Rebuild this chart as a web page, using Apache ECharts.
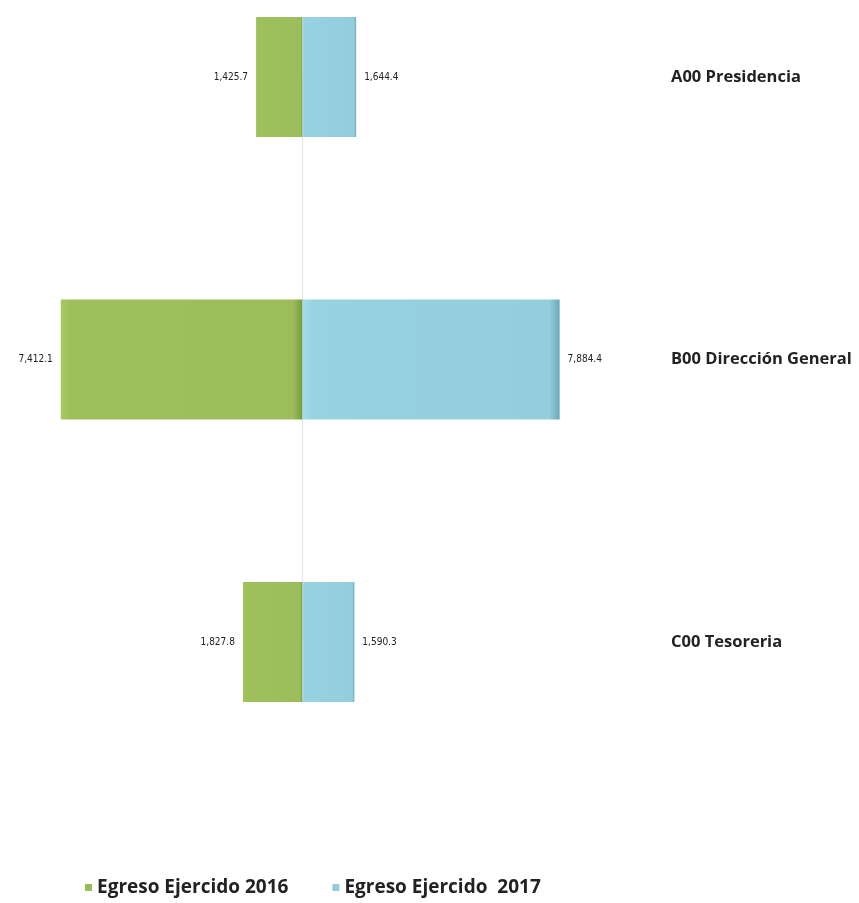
<!DOCTYPE html>
<html>
<head>
<meta charset="utf-8">
<script src="https://cdn.jsdelivr.net/npm/echarts@6/dist/echarts.min.js"></script>
<style>html,body{margin:0;padding:0;background:#fff;}#c{width:859px;height:903px;}</style>
</head>
<body>
<div id="c"></div>
<script>
var categories = ['A00 Presidencia', 'B00 Dirección General', 'C00 Tesoreria'];
var egreso2016 = [1425.7, 7412.1, 1827.8];
var egreso2017 = [1644.4, 7884.4, 1590.3];
var seriesNames = ['Egreso Ejercido 2016', 'Egreso Ejercido  2017'];

function fmt(v) {
  v = Math.abs(v);
  return v.toLocaleString('en-US', {minimumFractionDigits: 1, maximumFractionDigits: 1});
}
var chart = echarts.init(document.getElementById('c'), null, {renderer: 'canvas'});
var green = new echarts.graphic.LinearGradient(0, 0, 1, 0, [
  {offset: 0, color: '#a9c95e'}, {offset: 0.04, color: '#9dc05c'},
  {offset: 0.96, color: '#9dbd5c'}, {offset: 1, color: '#789c3a'}]);
var blue = new echarts.graphic.LinearGradient(0, 0, 1, 0, [
  {offset: 0, color: '#a6dcea'}, {offset: 0.04, color: '#97d2e0'},
  {offset: 0.96, color: '#94cedc'}, {offset: 1, color: '#6aa7b8'}]);
chart.setOption({
  animation: false,
  backgroundColor: '#ffffff',
  grid: {left: 9, width: 587, top: 77, bottom: 261, containLabel: false},
  legend: {
    left: 80, top: 873, itemWidth: 7, itemHeight: 7, itemGap: 44, icon: 'rect',
    textStyle: {fontFamily: 'Open Sans', fontWeight: 'bold', fontSize: 19, color: '#222'},
    data: [{name: seriesNames[0], itemStyle: {color: '#9bbb59'}}, {name: seriesNames[1], itemStyle: {color: '#93cddd'}}]
  },
  xAxis: {
    type: 'value', min: -9000, max: 9000,
    axisLine: {show: false}, axisTick: {show: false}, axisLabel: {show: false}, splitLine: {show: false}
  },
  yAxis: {
    type: 'category', data: categories, inverse: true, boundaryGap: false, position: 'right',
    axisLine: {show: false}, axisTick: {show: false},
    axisLabel: {margin: 75, align: 'left', fontFamily: 'Open Sans', fontWeight: 'bold', fontSize: 16.5, color: '#222'}
  },
  series: [
    {
      name: seriesNames[0], type: 'bar', stack: 'a', barWidth: 120,
      data: egreso2016.map(function (v) { return -v; }),
      itemStyle: {color: green},
      label: {show: true, position: 'left', distance: 8, formatter: function (p) { return fmt(p.value); },
        fontFamily: 'DejaVu Sans Condensed', fontSize: 10, color: '#222'}
    },
    {
      name: seriesNames[1], type: 'bar', stack: 'a', barWidth: 120,
      data: egreso2017,
      itemStyle: {color: blue},
      label: {show: true, position: 'right', distance: 8, formatter: function (p) { return fmt(p.value); },
        fontFamily: 'DejaVu Sans Condensed', fontSize: 10, color: '#222'},
      markLine: {silent: true, symbol: 'none', label: {show: false}, z: 0,
        lineStyle: {color: '#e4e4e4', width: 1, type: 'solid'}, data: [{xAxis: 0}]}
    }
  ]
});
</script>
</body>
</html>
